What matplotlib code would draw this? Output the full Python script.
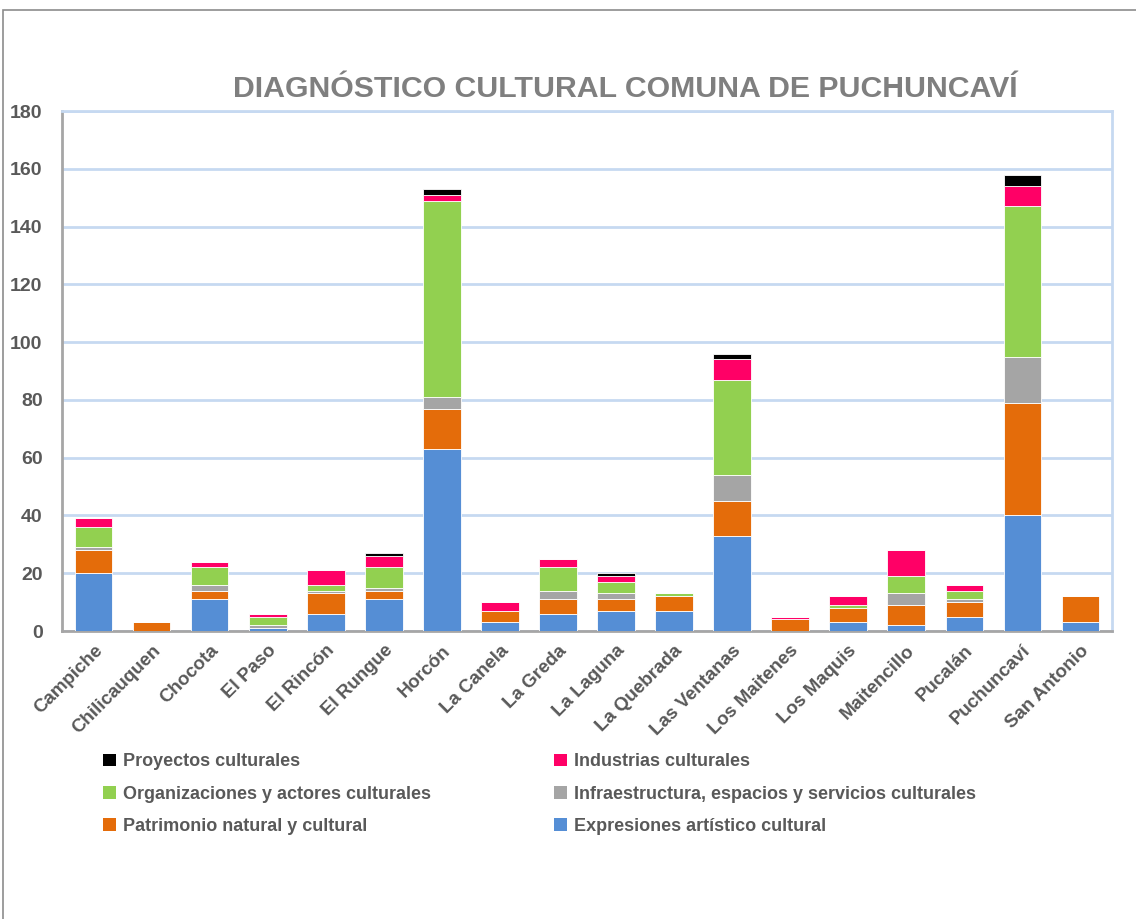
import numpy as np
import matplotlib.pyplot as plt
from matplotlib.patches import Patch, Rectangle

plt.rcParams['font.family'] = ['Liberation Sans Narrow', 'Liberation Sans', 'DejaVu Sans']

localidades = ['Campiche', 'Chilicauquen', 'Chocota', 'El Paso', 'El Rincón', 'El Rungue',
               'Horcón', 'La Canela', 'La Greda', 'La Laguna', 'La Quebrada', 'Las Ventanas',
               'Los Maitenes', 'Los Maquis', 'Maitencillo', 'Pucalán', 'Puchuncaví', 'San Antonio']

expresiones     = [20, 0, 11, 1, 6, 11, 63, 3, 6, 7, 7, 33, 0, 3, 2, 5, 40, 3]
patrimonio      = [8, 3, 3, 0, 7, 3, 14, 4, 5, 4, 5, 12, 4, 5, 7, 5, 39, 9]
infraestructura = [1, 0, 2, 1, 1, 1, 4, 0, 3, 2, 0, 9, 0, 0, 4, 1, 16, 0]
organizaciones  = [7, 0, 6, 3, 2, 7, 68, 0, 8, 4, 1, 33, 0, 1, 6, 3, 52, 0]
industrias      = [3, 0, 2, 1, 5, 4, 2, 3, 3, 2, 0, 7, 1, 3, 9, 2, 7, 0]
proyectos       = [0, 0, 0, 0, 0, 1, 2, 0, 0, 1, 0, 2, 0, 0, 0, 0, 4, 0]

series = [
    ('Expresiones artístico cultural', expresiones, '#558ed5'),
    ('Patrimonio natural y cultural', patrimonio, '#e46c0a'),
    ('Infraestructura, espacios y servicios culturales', infraestructura, '#a5a5a5'),
    ('Organizaciones y actores culturales', organizaciones, '#92d050'),
    ('Industrias culturales', industrias, '#ff0066'),
    ('Proyectos culturales', proyectos, '#000000'),
]

txt = '#595959'
grid = '#c6d9f1'

fig = plt.figure(figsize=(11.36, 9.19), dpi=100)
# outer chart frame
fig.patches.append(Rectangle((3 / 1136, -0.1), 1.2, (919 - 10) / 919 + 0.1,
                             transform=fig.transFigure, fill=False,
                             edgecolor='#8c8c8c', lw=1.2))

ax = fig.add_axes([62 / 1136, (919 - 631) / 919, 1050 / 1136, 520 / 919])

x = np.arange(len(localidades))
bottom = np.zeros(len(localidades))
handles = {}
for name, vals, color in series:
    vals = np.array(vals, dtype=float)
    ax.bar(x, vals, width=0.64, bottom=bottom, color=color,
           edgecolor='white', linewidth=0.6, zorder=3)
    bottom += vals
    handles[name] = Patch(facecolor=color, edgecolor='none')

ax.set_ylim(0, 180)
ax.set_xlim(-0.55, len(localidades) - 0.45)
ax.set_yticks(np.arange(0, 181, 20))
ax.yaxis.grid(True, color=grid, lw=2, zorder=0)
ax.set_axisbelow(True)
ax.tick_params(axis='both', length=0, colors=txt)
ax.tick_params(axis='y', pad=14, labelsize=14)
for lbl in ax.get_yticklabels():
    lbl.set_fontweight('bold')
ax.set_xticks(x)
ax.set_xticklabels(localidades, rotation=45, ha='right', rotation_mode='anchor',
                   fontweight='bold', fontsize=13.5, color=txt)
ax.tick_params(axis='x', pad=8)

for side in ['top', 'right']:
    ax.spines[side].set_color(grid)
    ax.spines[side].set_linewidth(2)
ax.spines['left'].set_color('#a6a6a6')
ax.spines['left'].set_linewidth(2)
ax.spines['bottom'].set_color('#a6a6a6')
ax.spines['bottom'].set_linewidth(2)

fig.text(625 / 1136, 1 - 89 / 919, 'DIAGNÓSTICO CULTURAL COMUNA DE PUCHUNCAVÍ',
         ha='center', va='center', fontsize=21.8, fontweight='bold', color='#7f7f7f')

order = ['Proyectos culturales', 'Organizaciones y actores culturales',
         'Patrimonio natural y cultural', 'Industrias culturales',
         'Infraestructura, espacios y servicios culturales',
         'Expresiones artístico cultural']
leg = fig.legend([handles[n] for n in order], order, ncol=2,
                 loc='upper left', bbox_to_anchor=(87 / 1136, 1 - 737 / 919),
                 frameon=False, handlelength=0.7, handleheight=0.7,
                 handletextpad=0.4, columnspacing=6.8, labelspacing=0.85,
                 prop={'size': 13, 'weight': 'bold'})
for t in leg.get_texts():
    t.set_color(txt)

fig.savefig('out.png', dpi=100)
